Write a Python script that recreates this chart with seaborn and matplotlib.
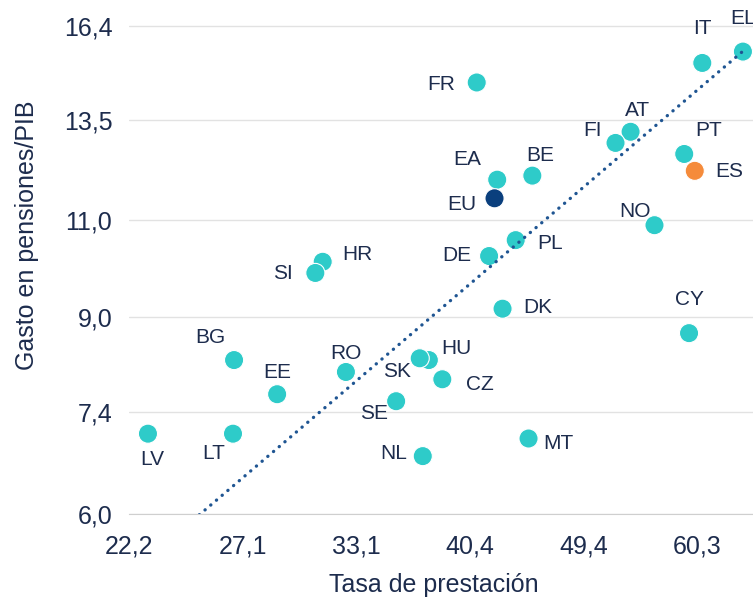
import numpy as np
import pandas as pd
import matplotlib
matplotlib.use("Agg")
import matplotlib.pyplot as plt
import seaborn as sns

# datos
paises = ["LV", "LT", "BG", "EE", "RO", "SE", "NL", "HR", "SI", "HU", "SK", "CZ",
          "DK", "DE", "FR", "MT", "PL", "EA", "EU", "BE", "NO", "AT", "FI", "CY",
          "PT", "ES", "IT", "EL"]
tasa = [22.95, 26.65, 26.7, 28.8, 32.5, 35.5, 37.2, 31.2, 30.8, 37.6, 37.0, 38.5,
        42.8, 41.8, 40.9, 44.8, 43.8, 42.4, 42.2, 45.1, 55.9, 53.6, 52.2, 59.4,
        58.9, 60.0, 60.8, 65.3]
gasto = [7.08, 7.08, 8.24, 7.68, 8.04, 7.57, 6.76, 10.09, 9.86, 8.24, 8.27, 7.92,
         9.16, 10.21, 14.6, 7.01, 10.55, 11.95, 11.5, 12.05, 10.88, 13.19, 12.89, 8.71,
         12.6, 12.17, 15.2, 15.56]
grupo = ["EU" if p == "EU" else ("ES" if p == "ES" else "resto") for p in paises]

xticks = [22.2, 27.1, 33.1, 40.4, 49.4, 60.3]
yticks = [6.0, 7.4, 9.0, 11.0, 13.5, 16.4]

# desplazamiento de etiquetas (pixeles)
offs = {"EL": (0, -33), "IT": (0, -34), "FR": (-36, 2), "EA": (-30, -20), "BE": (8, -20),
        "EU": (-33, 6), "PL": (34, 3), "AT": (7, -21), "FI": (-23, -12), "PT": (24, -23),
        "ES": (34, 1), "NO": (-19, -14), "CY": (0, -34), "HR": (35, -7), "SI": (-32, 1),
        "DE": (-32, -1), "DK": (35, -1), "HU": (28, -12), "SK": (-23, 13), "CZ": (38, 5),
        "RO": (0, -18), "EE": (0, -22), "SE": (-22, 12), "NL": (-29, -3), "MT": (30, 5),
        "BG": (-24, -23), "LV": (4, 26), "LT": (-19, 20)}

df = pd.DataFrame({"pais": paises, "tasa": tasa, "gasto": gasto, "grupo": grupo})

sns.set_style("white")
plt.rcParams["font.family"] = ["Liberation Sans", "DejaVu Sans"]
txt = "#1d2c4d"

fig = plt.figure(figsize=(7.53, 5.99), dpi=100)
ax = fig.add_axes([129 / 753, 85 / 599, 624 / 753, 514 / 599])
ax.set_xscale("log")
ax.set_yscale("log")

sns.scatterplot(data=df, x="tasa", y="gasto", hue="grupo",
                palette={"resto": "#2ecbc9", "EU": "#0a3f7d", "ES": "#f58b3b"},
                s=190, edgecolor="white", linewidth=0.8, legend=False, ax=ax, zorder=2)

# linea proporcional: media(y)/media(x)
b = df["gasto"].mean() / df["tasa"].mean()
xl = np.array([df["tasa"].min(), df["tasa"].max()])
ax.plot(xl, b * xl, linestyle=(0, (0.05, 2.2)), lw=2.4, color="#1f5592",
        dash_capstyle="round", zorder=3)

for p, x, y in zip(paises, tasa, gasto):
    dx, dy = offs[p]
    ax.annotate(p, (x, y), xytext=(dx * 0.72, -dy * 0.72), textcoords="offset points",
                ha="center", va="center", fontsize=15, color=txt, annotation_clip=False)

ax.set_xlim(np.exp(3.1), np.exp(4.1967))
ax.set_ylim(np.exp(1.8), np.exp(2.851))
ax.minorticks_off()
ax.set_xticks(xticks)
ax.set_xticklabels([f"{v:.1f}".replace(".", ",") for v in xticks])
ax.set_yticks(yticks)
ax.set_yticklabels([f"{v:.1f}".replace(".", ",") for v in yticks])
ax.tick_params(axis="x", length=6, width=1, color="#cfcfcf", pad=9,
               labelsize=18, labelcolor=txt)
ax.tick_params(axis="y", length=0, pad=12, labelsize=18, labelcolor=txt)
ax.grid(axis="y", color="#e2e2e2", lw=1)
ax.set_axisbelow(True)
for s in ["top", "right", "left"]:
    ax.spines[s].set_visible(False)
ax.spines["bottom"].set_color("#cfcfcf")

ax.set_xlabel("Tasa de prestación", fontsize=18, color=txt, va="center")
ax.set_ylabel("Gasto en pensiones/PIB", fontsize=18, color=txt, va="center")
ax.xaxis.set_label_coords(0.489, -0.138)
ax.yaxis.set_label_coords(-0.163, 0.543)

fig.savefig("out.png", dpi=100)
